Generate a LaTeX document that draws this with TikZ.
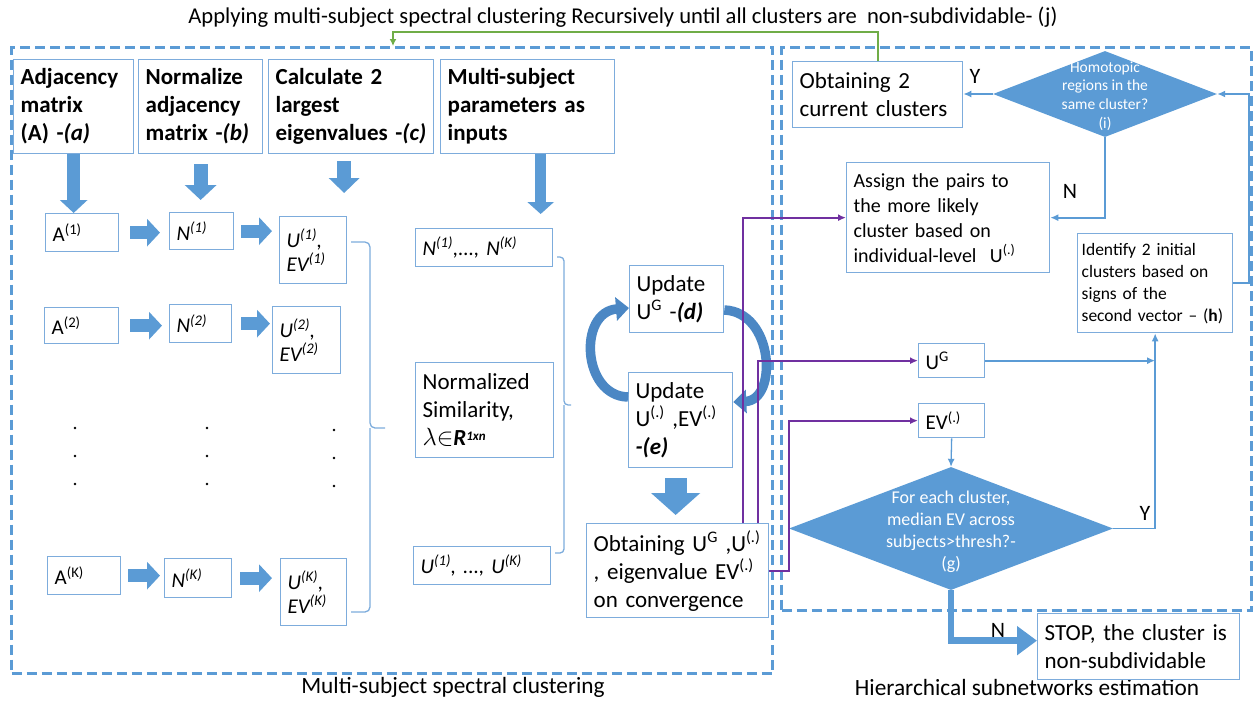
\documentclass[tikz,border=0pt]{standalone}
\usepackage{fontspec}
\setmainfont{Carlito}
\usetikzlibrary{arrows.meta,shapes.geometric,calc}
\definecolor{boxc}{RGB}{125,172,220}
\definecolor{blk}{RGB}{91,155,213}
\definecolor{frm}{RGB}{91,155,213}
\definecolor{purp}{RGB}{112,48,160}
\definecolor{grn}{RGB}{112,173,71}
\definecolor{circ}{RGB}{75,135,196}
\newcommand\fsA{\fontsize{23}{28}\selectfont}
\newcommand\fsB{\fontsize{21}{24}\selectfont}
\newcommand\fsC{\fontsize{20}{25}\selectfont}
\newcommand\fsD{\fontsize{18}{22}\selectfont}
\newcommand\fsE{\fontsize{15.5}{18.7}\selectfont}
\newcommand\sps[1]{\textsuperscript{#1}}
\newcommand\mybox[7][]{%
  \pgfmathsetmacro\mybw{#5-#3}%
  \pgfmathsetmacro\mybh{#6-#4}%
  \pgfmathsetmacro\mytw{#5-#3-14}%
  \node[box,minimum width=\mybw pt,minimum height=\mybh pt,text width=\mytw pt,anchor=north west,#1] (#2) at (#3,#4) {#7};}
\tikzset{
  box/.style={draw=boxc, line width=1.3pt, fill=white, inner xsep=7pt, inner ysep=2pt, align=left, font=\fsA},
  frame/.style={draw=frm, fill=none, line width=3pt, dash pattern=on 10pt off 5pt},
  barr/.style={draw=blk, line width=13pt, -{Triangle[width=27pt,length=13pt]}},
  conn/.style={draw=blk, line width=1.8pt, -{Latex[length=8pt,width=7pt]}},
  pconn/.style={draw=purp, line width=1.8pt, -{Latex[length=8pt,width=7pt]}},
  gconn/.style={draw=grn, line width=2pt, -{Latex[length=7pt,width=7pt]}},
  brc/.style={draw=boxc, line width=1.3pt},
  circarr/.style={draw=circ, line width=9.5pt, -{Triangle[width=23pt,length=13pt]}},
  dia/.style={diamond, fill=blk, draw=none, inner sep=0pt},
  dtext/.style={text=white, align=center, inner sep=0pt},
  lbl/.style={inner sep=0pt, font=\fsA},
}
\begin{document}
\begin{tikzpicture}[x=1pt,y=-1pt]
\useasboundingbox (0,0) rectangle (1253,715);
% frames
\mybox[frame]{lframe}{10}{46}{771}{672}{}
\mybox[frame]{rframe}{780}{46}{1250}{609}{}
% title and captions
\node[font=\fontsize{22.6}{26}\selectfont, inner sep=0pt] (title) at (623,17) {Applying multi-subject spectral clustering Recursively until all clusters are\ \ non-subdividable- (j)};
\node[lbl, font=\fontsize{23.3}{27}\selectfont] (cap1) at (453,687) {Multi-subject spectral clustering};
\node[lbl, font=\fontsize{23.3}{27}\selectfont] (cap2) at (1027,687) {Hierarchical subnetworks estimation};
% header boxes
\mybox[font=\fsA\bfseries]{adj}{13}{59}{133}{153}{Adjacency\\matrix\\(A) -\textit{(a)}}
\mybox[font=\fsA\bfseries]{norm}{138}{59}{262}{153}{Normalize\\adjacency\\matrix -\textit{(b)}}
\mybox[font=\fsA\bfseries]{calc}{268}{59}{433}{153}{Calculate 2\\largest\\eigenvalues -\textit{(c)}}
\mybox[font=\fsA\bfseries]{msp}{440}{59}{614}{153}{Multi-subject\\parameters as\\inputs}
% subject rows
\mybox[font=\fsB]{a1}{45}{213}{118}{251}{A\sps{(1)}}
\mybox[font=\fsB\itshape]{n1}{169}{212}{233}{249}{N\sps{(1)}}
\mybox[font=\fsB\itshape]{u1}{279}{216}{346}{283}{U\sps{(1)},\\EV\sps{(1)}}
\mybox[font=\fsB]{a2}{44}{307}{118}{343}{A\sps{(2)}}
\mybox[font=\fsB\itshape]{n2}{169}{304}{231}{342}{N\sps{(2)}}
\mybox[font=\fsB\itshape]{u2}{272}{306}{340}{373}{U\sps{(2)},\\EV\sps{(2)}}
\mybox[font=\fsB]{aK}{47}{556}{120}{594}{A\sps{(K)}}
\mybox[font=\fsB\itshape]{nK}{164}{558}{231}{597}{N\sps{(K)}}
\mybox[font=\fsB\itshape]{uK}{280}{558}{346}{625}{U\sps{(K)},\\EV\sps{(K)}}
% dots
\foreach \dx/\dy in {75/428,75/456,75/484,207/428,207/456,207/484,334/430,334/458,334/486}
  \fill (\dx,\dy) circle[radius=1.4pt];
% multi-subject inputs
\mybox[font=\fsB\itshape]{nlist}{415}{228}{552}{266}{N\sps{(1)},..., N\sps{(K)}}
\mybox[font=\fsA]{nsim}{415}{362}{553}{457}{Normalized\\Similarity,\\$\lambda{\in}$\textbf{\textit{R}}{\fontsize{13}{13}\selectfont\raisebox{5pt}{\textbf{\textit{1xn}}}}}
\mybox[font=\fsB\itshape]{ulist}{413}{546}{550}{584}{U\sps{(1)}, ..., U\sps{(K)}}
% update loop
\mybox{upd}{629}{265}{723}{332}{Update\\U\sps{G} -\textbf{\textit{(d)}}}
\mybox{upe}{628}{372}{732}{467}{Update\\U\sps{(.)} ,EV\sps{(.)}\\\textbf{\textit{-(e)}}}
\mybox{obt}{586}{523}{768}{617}{Obtaining U\sps{G} ,U\sps{(.)}\\, eigenvalue EV\sps{(.)}\\on convergence}
% right part
\mybox{obt2}{792}{61}{962}{127}{Obtaining 2\\current clusters}
\mybox[font=\fsC]{assign}{846}{162}{1049}{272}{Assign the pairs to\\the more likely\\cluster based on\\individual-level\ \ U\sps{(.)}}
\mybox[font=\fontsize{17.5}{22}\selectfont, inner xsep=4pt, text width=147pt]{ident}{1077}{233}{1232}{332}{Identify 2 initial\\clusters based on\\signs of the\\second vector -- (\textbf{h})}
\mybox[font=\fsB]{ug}{918}{343}{984}{377}{U\sps{G}}
\mybox[font=\fsB]{ev}{918}{403}{984}{437}{EV\sps{(.)}}
\mybox{stop}{1037}{613}{1239}{679}{STOP, the cluster is\\non-subdividable}
\node[dia, minimum width=224pt, minimum height=86pt] (d1) at (1105,94) {};
\node[dtext, font=\fsE] (d1t) at (1105,96) {Homotopic\\regions in the\\same cluster?\\(i)};
\node[dia, minimum width=324pt, minimum height=123pt] (d2) at (951,528.5) {};
\node[dtext, font=\fsD] (d2t) at (951,532) {For each cluster,\\median EV across\\subjects>thresh?-\\(g)};
% block arrows
\draw[barr] (adj.south) -- (adj.south |- a1.north);
\draw[barr, line width=14pt, -{Triangle[width=31pt,length=15pt]}, shorten <=10pt, shorten >=12pt] (norm.south) -- (norm.south |- n1.north);
\draw[barr, line width=14pt, -{Triangle[width=30pt,length=15pt]}, shorten <=7pt, shorten >=23pt] ([xshift=-7pt]calc.south) -- ([xshift=-7pt]calc.south |- u1.north);
\draw[barr, line width=11pt, -{Triangle[width=26pt,length=12pt]}, shorten >=14pt] ([xshift=13pt]msp.south) -- ([xshift=13pt]msp.south |- nlist.north);
\draw[barr, shorten <=11pt, shorten >=9pt] (a1.east) -- (a1.east -| n1.west);
\draw[barr, shorten <=7pt, shorten >=7pt] (n1.east) -- (n1.east -| u1.west);
\draw[barr, shorten <=11pt, shorten >=7pt] (a2.east) -- (a2.east -| n2.west);
\draw[barr, shorten <=9pt, shorten >=2pt] (n2.east) -- (n2.east -| u2.west);
\draw[barr, shorten <=7pt, shorten >=4pt] (aK.east) -- (aK.east -| nK.west);
\draw[barr, shorten <=8pt, shorten >=8pt] (nK.east) -- (nK.east -| uK.west);
\draw[barr, line width=22pt, -{Triangle[width=48pt,length=22pt]}, shorten <=10pt, shorten >=8pt] ([xshift=-5pt]upe.south) -- ([xshift=-5pt]upe.south |- obt.north);
% circular arrows
\draw[circarr] ([yshift=-25pt]upe.north west) .. controls (582,396) and (578,312) .. ([yshift=-43pt]upd.north west);
\draw[circarr] ([yshift=-45pt]upd.north east) .. controls (774,312) and (778,400) .. ([yshift=-30pt]upe.north east);
% braces
\draw[brc, rounded corners=5pt] (351,242) -- (370,242) -- (370,428) -- (385,428);
\draw[brc, rounded corners=5pt] (370,428) -- (370,612) -- (351,612);
\draw[brc, rounded corners=4pt] (557,257) -- (564,257) -- (564,405) -- (571,405);
\draw[brc, rounded corners=4pt] (564,405) -- (564,553) -- (555,553);
% purple connectors
\draw[pconn] ([xshift=65pt]obt.north) |- (assign.west);
\draw[pconn] ([xshift=80pt]obt.north) |- (ug.west);
\draw[pconn] (obt.east) -- ++(20,0) |- (ev.west);
% blue connectors
\draw[conn] (ug.east) -- (ug.east -| ident.south);
\draw[conn] (d2.east) -| (ident.south);
\draw[conn, line width=1.3pt] (ev.south) -- (d2.north);
\draw[draw=blk, line width=6.5pt, -{Triangle[width=28pt,length=20pt]}] (d2.south) |- ([yshift=6pt]stop.west);
\draw[conn] (ident.east) -- ++(16,0) |- (d1.east);
\draw[conn] (d1.west) -- (d1.west -| obt2.east);
\draw[conn] (d1.south) |- (assign.east);
% green recursion
\coordinate (gend) at (393,46);
\draw[gconn] (obt2.north) |- ([yshift=14pt]gend) -- (gend);
% Y / N labels
\node[lbl, font=\fontsize{22}{26}\selectfont] (y1) at (975,76) {Y};
\node[lbl, font=\fontsize{22}{26}\selectfont] (n1l) at (1070,191) {N};
\node[lbl, font=\fontsize{22}{26}\selectfont] (y2) at (1145,513) {Y};
\node[lbl, font=\fontsize{22}{26}\selectfont] (n2l) at (998,630) {N};
\end{tikzpicture}
\end{document}
